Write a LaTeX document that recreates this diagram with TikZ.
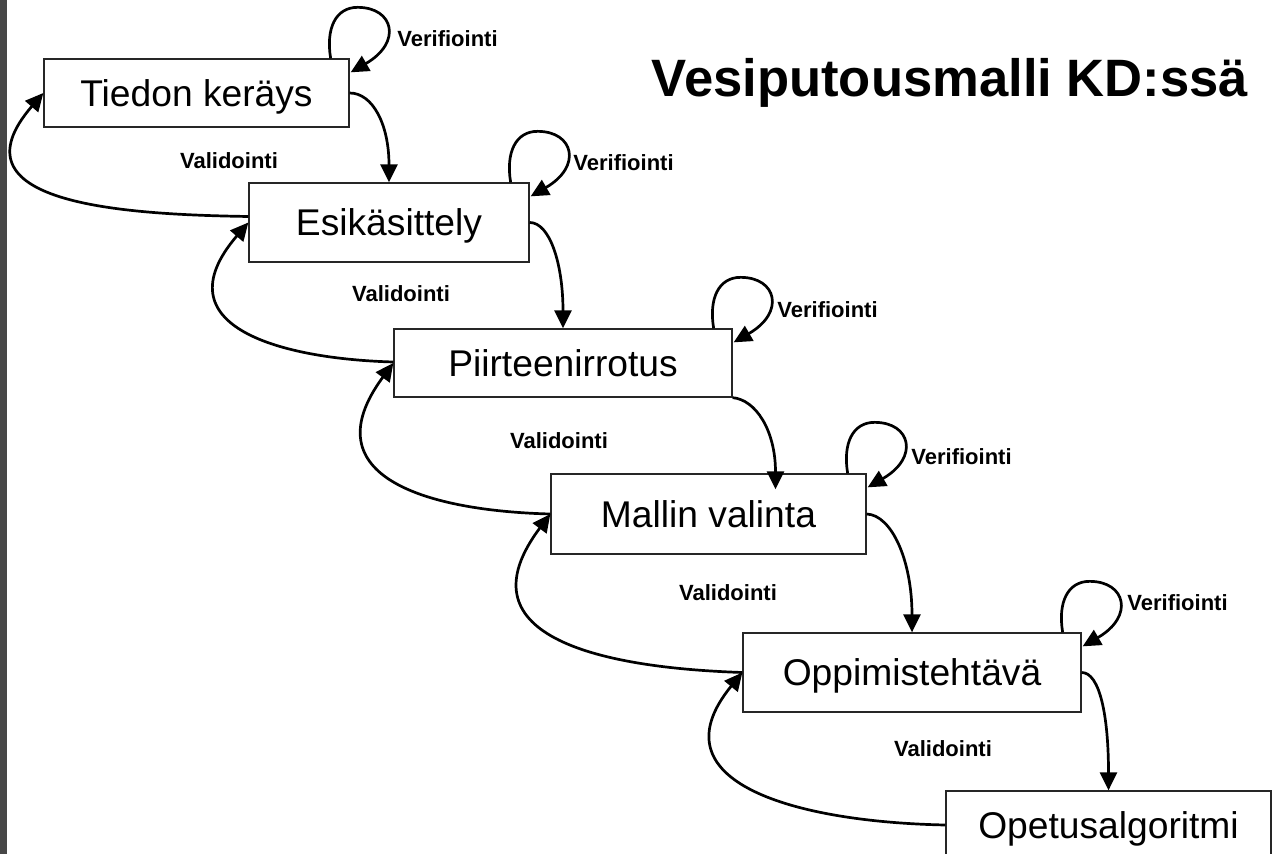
\documentclass[tikz,border=0pt]{standalone}
\usepackage{fontspec}
\setmainfont{Liberation Sans}
\usetikzlibrary{arrows.meta}
\definecolor{sidegray}{RGB}{71,71,71}

% self-loop above the top-right corner of a stage box
\newcommand\veriloop[1]{%
  \draw[conn] ([shift={(-19,0)}]#1.north east)
    .. controls +(-5,-30) and +(-22,0) .. ([shift={(8,-51)}]#1.north east)
    .. controls +(36,0) and +(52,-30) .. ([shift={(1,14)}]#1.north east);}

\begin{document}
\begin{tikzpicture}[x=0.5pt,y=-0.5pt,
  box/.style={draw=black!85, line width=0.65pt, fill=white, inner sep=0pt,
    font=\fontsize{18.6}{22}\selectfont, text height=13.4pt, text depth=0pt},
  conn/.style={line width=1.35pt, -{Triangle[length=9pt,width=8.5pt]}},
  lbl/.style={font=\bfseries\fontsize{11}{13}\selectfont, inner sep=0pt,
    text height=7.9pt, text depth=0pt},
  titlestyle/.style={font=\bfseries\fontsize{26.3}{30}\selectfont, inner sep=0pt,
    text height=18.9pt, text depth=0pt}]
\useasboundingbox (0,0) rectangle (1272,854);
\clip (0,0) rectangle (1272,854);
\fill[white] (0,0) rectangle (1272,854);
\fill[sidegray] (0,0) rectangle (7,854);

% title
\node[titlestyle] (title) at (950,78) {Vesiputousmalli KD:ssä};

% stages
\node[box, minimum width=152.5pt, minimum height=34pt]   (b1) at (196.5,93)   {Tiedon keräys};
\node[box, minimum width=140pt,   minimum height=39.5pt] (b2) at (389,222.5)  {Esikäsittely};
\node[box, minimum width=169pt,   minimum height=34pt]   (b3) at (563,363)    {Piirteenirrotus};
\node[box, minimum width=157.5pt, minimum height=40pt]   (b4) at (708.5,514)  {Mallin valinta};
\node[box, minimum width=169pt,   minimum height=39.5pt] (b5) at (912,672.5)  {Oppimistehtävä};
\node[box, minimum width=162.5pt, minimum height=34pt]   (b6) at (1108.5,825) {Opetusalgoritmi};

% forward flow
\draw[conn] (b1.east) .. controls +(23,0) and +(0,-58) .. (b2.north);
\draw[conn] (b2.east) .. controls +(20,0) and +(0,-65) .. (b3.north);
\draw[conn] (b3.south east) .. controls +(23,2) and +(0,-59) .. ([shift={(67,16)}]b4.north);
\draw[conn] (b4.east) .. controls +(25,1) and +(0,-72) .. (b5.north);
\draw[conn] (b5.east) .. controls +(18,0) and +(0,-75) .. (b6.north);

% verification loops
\veriloop{b1}
\veriloop{b2}
\veriloop{b3}
\veriloop{b4}
\veriloop{b5}

% validation feedback
\draw[conn] ([shift={(0,-6)}]b2.west) .. controls +(-130,-2) and +(-95,110) .. (b1.west);
\draw[conn] ([shift={(0,-1)}]b3.west) .. controls +(-110,-3) and +(-90,105) .. (b2.west);
\draw[conn] (b4.west) .. controls +(-120,-3) and +(-85,115) .. (b3.west);
\draw[conn] (b5.west) .. controls +(-150,-5) and +(-90,120) .. (b4.west);
\draw[conn] (b6.west) .. controls +(-150,-3) and +(-90,110) .. (b5.west);

% labels
\node[lbl, anchor=west] (ver1) at (397,39)  {Verifiointi};
\node[lbl, anchor=west] (ver2) at (573,163) {Verifiointi};
\node[lbl, anchor=west] (ver3) at (777,310) {Verifiointi};
\node[lbl, anchor=west] (ver4) at (911,457) {Verifiointi};
\node[lbl, anchor=west] (ver5) at (1127,603) {Verifiointi};

\node[lbl] (val1) at (229,161) {Validointi};
\node[lbl] (val2) at (401,294) {Validointi};
\node[lbl] (val3) at (559,441) {Validointi};
\node[lbl] (val4) at (728,593) {Validointi};
\node[lbl] (val5) at (943,749) {Validointi};
\end{tikzpicture}
\end{document}
